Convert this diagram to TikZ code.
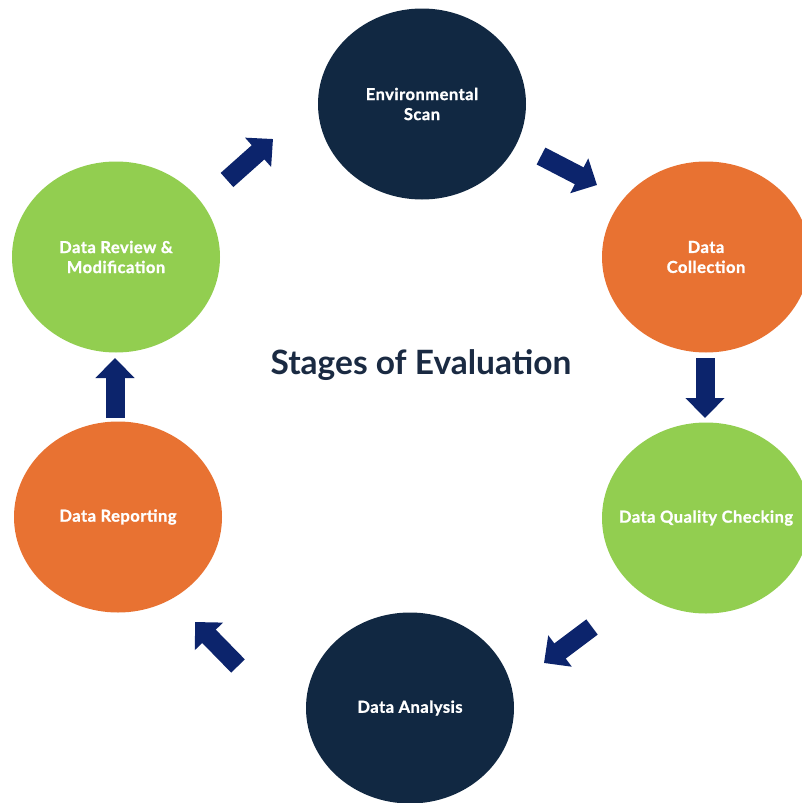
\documentclass[tikz,border=0pt]{standalone}
\usepackage{fontspec}
\setmainfont{Lato}
\newfontfamily\circfont[LetterSpace=3,FakeBold=1.2]{Lato Bold}
\usetikzlibrary{shapes.geometric,arrows.meta}
\definecolor{navycirc}{RGB}{17,40,66}
\definecolor{orangecirc}{RGB}{232,114,50}
\definecolor{greencirc}{RGB}{146,206,80}
\definecolor{arrowblue}{RGB}{12,36,108}
\definecolor{titlecol}{RGB}{26,42,66}
\tikzset{
  stage/.style={ellipse, minimum width=208pt, minimum height=191pt, inner sep=0pt,
    text=white, align=center, font=\circfont\fontsize{16.5}{20}\selectfont},
  navystage/.style={stage, fill=navycirc},
  orangestage/.style={stage, fill=orangecirc},
  greenstage/.style={stage, fill=greencirc},
  blockarrow/.style={draw=arrowblue, line width=19pt,
    -{Triangle[length=20pt,width=38pt,fill=arrowblue,color=arrowblue]}}
}
\begin{document}
\begin{tikzpicture}[x=1pt,y=-1pt]
\useasboundingbox (0,0) rectangle (801,803);
\fill[white] (0,0) rectangle (801,803);
\node[navystage] (env) at (422,104) {Environmental\\Scan};
\node[orangestage] (col) at (706,257) {Data\\Collection};
\node[greenstage] (qual) at (706,518) {\makebox[0pt]{Data Quality Checking}};
\node[navystage] (ana) at (410,708) {Data Analysis};
\node[orangestage] (rep) at (118,517) {Data Reporting};
\node[greenstage] (rev) at (116,257) {Data Review \&\\Modification};
\node[text=titlecol, font=\bfseries\fontsize{33.5}{38}\selectfont] (title) at (421,365) {Stages of Evaluation};
\coordinate (a1s) at (227,180); \coordinate (a1e) at (273,139);
\coordinate (a2s) at (541,156); \coordinate (a2e) at (597,185);
\coordinate (a3s) at (705,358); \coordinate (a3e) at (705,418);
\coordinate (a4s) at (592,627); \coordinate (a4e) at (544,663);
\coordinate (a5s) at (238,666); \coordinate (a5e) at (195,622);
\coordinate (a6s) at (115,418); \coordinate (a6e) at (115,358);
\draw[blockarrow] (a1s) -- (a1e);
\draw[blockarrow] (a2s) -- (a2e);
\draw[blockarrow] (a3s) -- (a3e);
\draw[blockarrow] (a4s) -- (a4e);
\draw[blockarrow] (a5s) -- (a5e);
\draw[blockarrow] (a6s) -- (a6e);
\end{tikzpicture}
\end{document}
